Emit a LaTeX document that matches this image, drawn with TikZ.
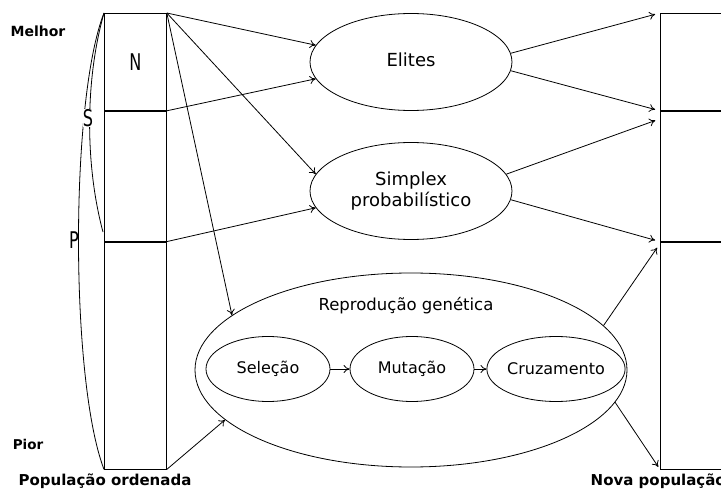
\documentclass[tikz,border=0pt]{standalone}
\usepackage{fontspec}
\setmainfont{DejaVu Sans}
\usepackage{graphicx}
\usetikzlibrary{arrows.meta,shapes.geometric}

\newcommand{\thinletter}[1]{\scalebox{0.7}[1]{\fontsize{23}{23}\selectfont #1}}

\begin{document}
\begin{tikzpicture}[x=1pt,y=-1pt,line width=0.8pt,>={To[length=6pt,width=8pt]}]
\tikzstyle{slot}=[draw,rectangle,inner sep=0,minimum width=62pt,anchor=north west]
\tikzstyle{oper}=[draw,ellipse,inner sep=0,minimum width=202pt,minimum height=97pt,
  align=center,font=\fontsize{18}{21}\selectfont]
\tikzstyle{step op}=[draw,ellipse,inner sep=0,minimum width=124pt,minimum height=65pt,
  font=\fontsize{16}{19}\selectfont]
\tikzstyle{tag}=[font=\bfseries\fontsize{14}{16}\selectfont]
\tikzstyle{caption}=[font=\bfseries\fontsize{15}{18}\selectfont]

\useasboundingbox (0,0) rectangle (721,492);

% ordered population
\node[slot,minimum height=97pt] (N) at (104,13) {\thinletter{N}};
\node[slot,minimum height=130pt] (S) at (N.south west) {};
\node[slot,minimum height=227pt] (P) at (S.south west) {};

% new population
\node[slot,minimum height=97pt] (r1) at (660,13) {};
\node[slot,minimum height=130pt] (r2) at (r1.south west) {};
\node[slot,minimum height=227pt] (r3) at (r2.south west) {};

% operators
\node[oper] (elites) at (411,62) {\raisebox{5pt}{Elites}};
\node[oper] (simplex) at (411,191) {Simplex\\probabilístico};
\node[draw,ellipse,inner sep=0,minimum width=432pt,minimum height=194pt] (repro) at (411,370) {};
\node[font=\fontsize{16.5}{19}\selectfont] (reprotitle) at (406,306) {Reprodução genética};
\node[step op] (sel) at (268,369) {Seleção};
\node[step op] (mut) at (412,369) {Mutação};
\node[step op] (cruz) at (556,369) {Cruzamento};

% labels
\node[tag] (melhor) at (38,31) {Melhor};
\node[tag,font=\bfseries\fontsize{13.5}{16}\selectfont] (pior) at (28,444) {Pior};
\node[caption] (ordlabel) at (105,481) {População ordenada};
\node[caption,anchor=west] (novalabel) at (587,481) {Nova população};

% S and P braces
\draw (N.north west) .. controls (85,80) and (85,165) .. (103,232);
\draw (N.north west) .. controls (70,100) and (70,380) .. (P.south west);
\node[fill=white,inner sep=0] (slabel) at (88,118) {\thinletter{S}};
\node[inner sep=0] (plabel) at (74,240) {\thinletter{P}};

% left to operators
\draw[->] (N.north east) -- (elites.170);
\draw[->] (S.north east) -- (elites.190);
\draw[->] (N.north east) -- (simplex.170);
\draw[->] (P.north east) -- (simplex.190);
\draw[->] (N.north east) -- (repro.163);
\draw[->] (P.south east) -- (repro.195);

% inside reproduction
\draw[->] (sel) -- (mut);
\draw[->] (mut) -- (cruz);

% operators to new population
\draw[->,shorten >=5pt] (elites.5) -- (r1.north west);
\draw[->,shorten >=5pt] (elites.-5) -- (r2.north west);
\draw[->,shorten >=5pt] (simplex.10) -- ([yshift=-8pt]r2.north west);
\draw[->,shorten >=5pt] (simplex.-5) -- (r3.north west);
\draw[->,shorten >=5pt] (repro.13) -- ([yshift=-2pt]r3.north west);
\draw[->,shorten >=3pt] (repro.-9) -- (r3.south west);
\end{tikzpicture}
\end{document}
